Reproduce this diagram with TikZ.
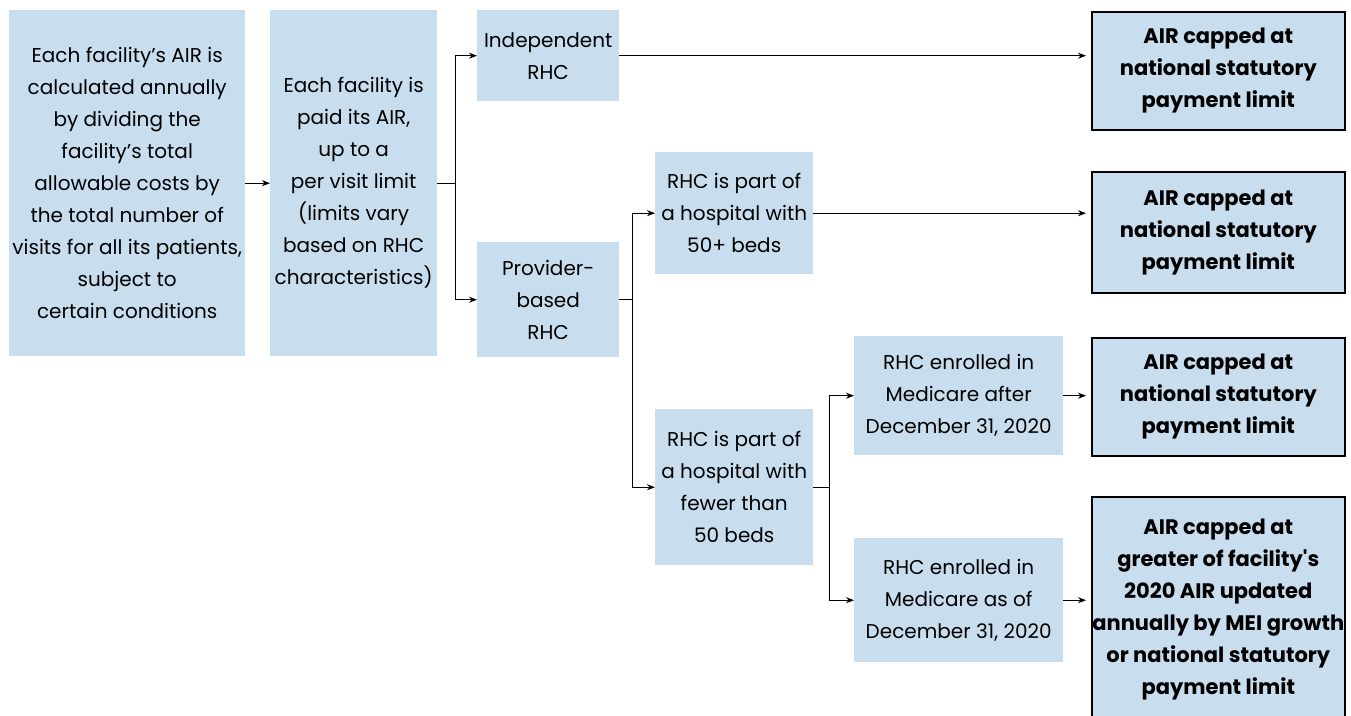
\documentclass[tikz,border=0pt]{standalone}
\usepackage{fontspec}
\setmainfont{Poppins}[Ligatures=TeXOff]
\usetikzlibrary{arrows.meta}
\definecolor{boxblue}{HTML}{C8DDED}
\tikzset{
  x=1pt,y=-1pt,
  box/.style={fill=boxblue, draw=none, inner sep=0pt, anchor=north west, align=center,
     font=\fontsize{20}{32}\selectfont},
  outbox/.style={box, draw=black, line width=1.6pt, font=\fontsize{21}{32}\selectfont\bfseries},
  arr/.style={-{Stealth[length=8pt,width=6pt]}, line width=0.9pt},
  ln/.style={line width=0.9pt}
}
\begin{document}
\begin{tikzpicture}
\useasboundingbox (0,0) rectangle (1351,715);
\begin{scope}
\clip (0,0) rectangle (1351,715);
\node[box, minimum width=236pt, minimum height=346pt] (b1) at (9,10) {Each facility’s AIR is\\calculated annually\\by dividing the\\facility’s total\\allowable costs by\\the total number of\\visits for all its patients,\\subject to\\certain conditions};
\node[box, minimum width=167pt, minimum height=346pt] (b2) at (270,10) {Each facility is\\paid its AIR,\\up to a\\per visit limit\\(limits vary\\based on RHC\\characteristics)};
\node[box, minimum width=142pt, minimum height=91pt] (ind) at (477,10) {Independent\\RHC};
\node[box, minimum width=142pt, minimum height=115pt] (prov) at (477,242) {Provider-\\based\\RHC};
\node[box, minimum width=158pt, minimum height=122pt] (ne) at (655,152) {RHC is part of\\a hospital with\\50+ beds};
\node[box, minimum width=158pt, minimum height=156pt] (fe) at (655,409) {RHC is part of\\a hospital with\\fewer than\\50 beds};
\node[box, minimum width=209pt, minimum height=119pt] (af) at (854,336) {RHC enrolled in\\Medicare after\\December 31, 2020};
\node[box, minimum width=209pt, minimum height=124pt] (as) at (854,538) {RHC enrolled in\\Medicare as of\\December 31, 2020};
\node[outbox, minimum width=253pt, minimum height=118pt] (o1) at (1091,11) {AIR capped at\\national statutory\\payment limit};
\node[outbox, minimum width=253pt, minimum height=121pt] (o2) at (1091,171) {AIR capped at\\national statutory\\payment limit};
\node[outbox, minimum width=253pt, minimum height=118pt] (o3) at (1091,337) {AIR capped at\\national statutory\\payment limit};
\node[outbox, minimum width=253pt, minimum height=226pt] (o4) at (1091,496) {AIR capped at\\greater of facility's\\2020 AIR updated\\annually by MEI growth\\or national statutory\\payment limit};
\end{scope}
% connectors
\draw[arr] (b1.east) -- (b2.west);
\draw[ln] (b2.east) -- ++(18,0) coordinate (f1);
\draw[arr] (f1) |- (ind.west);
\draw[arr] (f1) |- (prov.west);
\draw[ln] (prov.east) -- ++(13,0) coordinate (f2);
\draw[arr] (f2) |- (ne.west);
\draw[arr] (f2) |- (fe.west);
\draw[ln] (fe.east) -- ++(16,0) coordinate (f3);
\draw[arr] (f3) |- (af.west);
\draw[arr] (f3) |- (as.west);
\draw[arr, shorten >=5pt] (ind.east) -- (ind.east -| o1.west);
\draw[arr, shorten >=5pt] (ne.east) -- (ne.east -| o2.west);
\draw[arr, shorten >=5pt] (af.east) -- (af.east -| o3.west);
\draw[arr, shorten >=5pt] (as.east) -- (as.east -| o4.west);
\end{tikzpicture}
\end{document}
